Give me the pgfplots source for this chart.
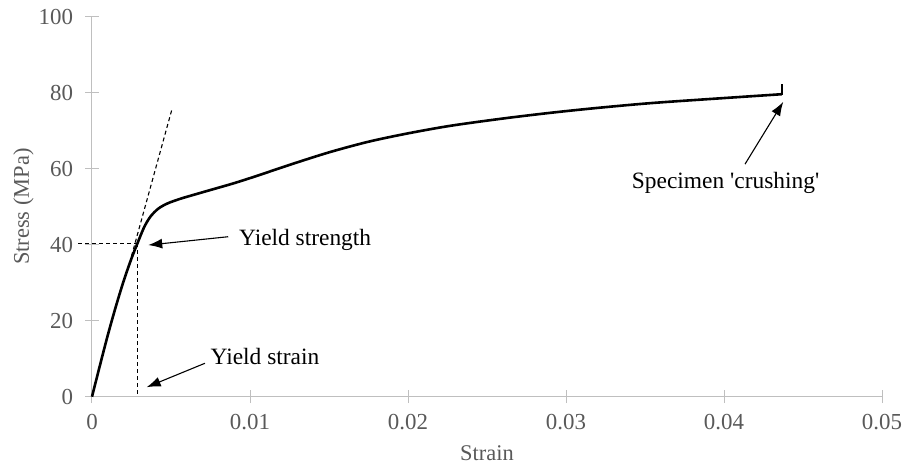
\documentclass[border=0pt]{standalone}
\usepackage{fontspec}
\setmainfont{Liberation Serif}
\usepackage{pgfplots}
\pgfplotsset{compat=1.18}
\usetikzlibrary{arrows.meta}
\definecolor{axgrey}{HTML}{BFBFBF}
\definecolor{txtgrey}{HTML}{595959}
\begin{document}
\begin{tikzpicture}
\begin{axis}[
  scale only axis,
  width=790bp, height=380bp,
  xmin=0, xmax=0.05, ymin=0, ymax=100,
  axis lines=left,
  axis line style={axgrey, line width=1bp, -},
  scaled x ticks=false,
  xtick={0,0.01,0.02,0.03,0.04,0.05},
  xticklabels={0,0.01,0.02,0.03,0.04,0.05},
  ytick={0,20,40,60,80,100},
  tick align=center,
  major tick length=13bp,
  tick style={axgrey, line width=1bp},
  ticklabel style={font=\fontsize{23}{27}\selectfont, text=txtgrey},
  /pgf/number format/assume math mode=true,
  xticklabel style={yshift=-8bp},
  yticklabel style={xshift=-9bp},
  xlabel={Strain}, ylabel={Stress (MPa)},
  label style={font=\fontsize{22.5}{26}\selectfont, text=txtgrey},
  xlabel style={yshift=-9bp},
  ylabel style={yshift=-2bp},
  clip=false,
]
\addplot[black, line width=2.6bp, smooth, tension=0.5] coordinates {
(0,0) (0.0005,8.2) (0.001,16.2) (0.0015,23.6) (0.002,30.4) (0.0025,36.4)
(0.0029,40.6) (0.0033,44.6) (0.0037,47.4) (0.0042,49.5) (0.0048,50.9)
(0.0056,52.1) (0.0065,53.2) (0.0075,54.4) (0.009,56.2) (0.0105,58.2)
(0.0125,61.0) (0.015,64.3) (0.0175,67.1) (0.020,69.3) (0.0227,71.3)
(0.026,73.2) (0.029,74.7) (0.032,76.0) (0.0355,77.3) (0.0404,78.7) (0.04365,79.6)
};
\addplot[black, line width=2.2bp] coordinates {(0.04365,79.4) (0.04365,82.2)};
% dashed construction lines
\addplot[black, line width=1.1bp, dash pattern=on 4bp off 3bp] coordinates {(0.0025,37) (0.00505,75.5)};
\addplot[black, line width=1.1bp, dash pattern=on 4bp off 3bp] coordinates {(-0.00088,40.4) (0.0029,40.4)};
\addplot[black, line width=1.1bp, dash pattern=on 4bp off 3bp] coordinates {(0.0029,40.4) (0.0029,0)};
% annotations
\draw[-{Latex[length=14bp,width=10bp]}, line width=1.1bp] (axis cs:0.00862,42.1) -- (axis cs:0.00356,39.9);
\node[anchor=west, font=\fontsize{23.5}{27}\selectfont, inner sep=0pt] at (axis cs:0.0093,41.2) {Yield strength};
\draw[-{Latex[length=14bp,width=10bp]}, line width=1.1bp] (axis cs:0.00715,8.8) -- (axis cs:0.00346,2.5);
\node[anchor=west, font=\fontsize{23.5}{27}\selectfont, inner sep=0pt] at (axis cs:0.0075,10.7) {Yield strain};
\draw[-{Latex[length=14bp,width=10bp]}, line width=1.1bp] (axis cs:0.04133,61.2) -- (axis cs:0.04375,77.6);
\node[font=\fontsize{23.5}{27}\selectfont, inner sep=0pt] at (axis cs:0.0401,56.2) {Specimen \textquotesingle crushing\textquotesingle};
\end{axis}
\pgfresetboundingbox
\path (-92bp,-69.3bp) rectangle (822bp,396.7bp);
\end{tikzpicture}
\end{document}
